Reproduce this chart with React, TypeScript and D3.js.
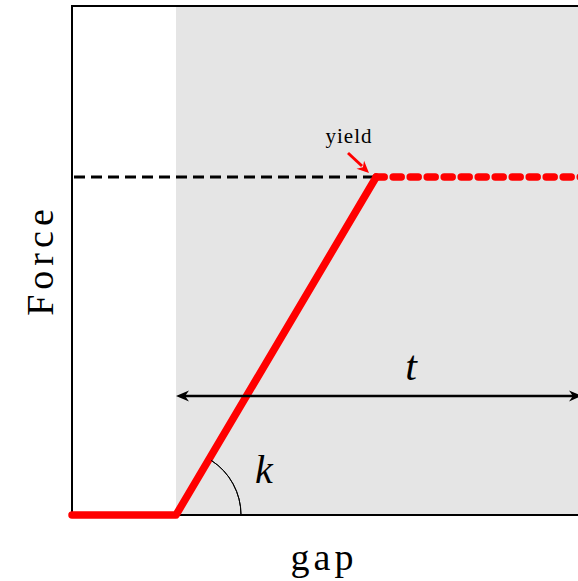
import React from "react";
import * as d3 from "d3";

// data (gap in arbitrary units, force normalised)
const gapStart = 2.0;
const yieldGap = 5.85;
const gapMax = 10.0;
const yieldForce = 0.664;
const arrowForce = 0.234;
const forcePath: [number, number][] = [
  [0, 0],
  [gapStart, 0],
  [yieldGap, yieldForce],
];
const plasticPath: [number, number][] = [
  [yieldGap, yieldForce],
  [gapMax, yieldForce],
];
const labels = { x: "gap", y: "Force", yieldLbl: "yield", t: "t", k: "k" };

const W = 578;
const H = 581;

function head(tx: number, ty: number, dx: number, dy: number, len: number, hw: number) {
  const n = Math.hypot(dx, dy);
  const ux = dx / n, uy = dy / n;
  const bx = tx - ux * len, by = ty - uy * len;
  const px = -uy, py = ux;
  const ix = tx - ux * len * 0.7, iy = ty - uy * len * 0.7;
  return `M${tx},${ty} L${bx + px * hw},${by + py * hw} L${ix},${iy} L${bx - px * hw},${by - py * hw} Z`;
}

export default function App() {
  const x = d3.scaleLinear().domain([0, gapMax]).range([72, 72 + 52 * gapMax]);
  const y = d3.scaleLinear().domain([0, 1]).range([515, 6]);
  const line = d3.line<[number, number]>().x((d) => x(d[0])).y((d) => y(d[1]));

  const ang = Math.atan2(y(0) - y(yieldForce), x(yieldGap) - x(gapStart));
  const r = 65;
  const arc = d3.arc()({
    innerRadius: r,
    outerRadius: r,
    startAngle: Math.PI / 2 - ang + 0.04,
    endAngle: Math.PI / 2,
  } as any) as string;

  const ay = y(arrowForce);
  const ax0 = x(gapStart);
  const ax1 = 582;
  const serif = "'Liberation Serif', 'DejaVu Serif', serif";
  return (
    <svg width={W} height={H} style={{ position: "absolute", left: 0, top: 0 }}>
      <rect x={x(gapStart)} y={y(1)} width={W - x(gapStart) + 20} height={y(0) - y(1)} fill="#e5e5e5" />
      {/* frame */}
      <path d={`M${W + 10},${y(1)} H${x(0)} V${y(0)} H${W + 10}`} fill="none" stroke="black" strokeWidth={2} />
      {/* dashed black yield */}
      <line x1={x(0) + 2} x2={x(yieldGap)} y1={y(yieldForce)} y2={y(yieldForce)} stroke="black" strokeWidth={3} strokeDasharray="11,6" />
      {/* red elastic */}
      <path d={line(forcePath)!} fill="none" stroke="red" strokeWidth={7.5} strokeLinecap="round" strokeLinejoin="round" />
      <path d={line(plasticPath)!} fill="none" stroke="red" strokeWidth={7.5} strokeLinecap="round" strokeDasharray="8,9" />
      {/* k arc */}
      <path d={arc} transform={`translate(${x(gapStart)},${y(0)})`} fill="none" stroke="black" strokeWidth={1} />
      <text x={264} y={483} fontFamily={serif} fontStyle="italic" fontSize={40} textAnchor="middle">{labels.k}</text>
      {/* t arrow */}
      <line x1={ax0 + 6} x2={ax1 - 6} y1={ay} y2={ay} stroke="black" strokeWidth={2.5} />
      <path d={head(ax0, ay, -1, 0, 13, 5.5)} fill="black" />
      <path d={head(ax1, ay, 1, 0, 13, 5.5)} fill="black" />
      <text x={411} y={380} fontFamily={serif} fontStyle="italic" fontSize={42} textAnchor="middle">{labels.t}</text>
      {/* yield annotation */}
      <text x={349} y={143} fontFamily={serif} fontSize={21} textAnchor="middle" letterSpacing={1}>{labels.yieldLbl}</text>
      <line x1={348} y1={153} x2={362} y2={166} stroke="red" strokeWidth={3} />
      <path d={head(369, 173, 19, 18, 12, 5.5)} fill="red" />
      {/* axis labels */}
      <text x={324} y={570} fontFamily={serif} fontSize={38} textAnchor="middle" letterSpacing={4}>{labels.x}</text>
      <text transform={`translate(53,260) rotate(-90)`} fontFamily={serif} fontSize={38} textAnchor="middle" letterSpacing={5}>{labels.y}</text>
    </svg>
  );
}
